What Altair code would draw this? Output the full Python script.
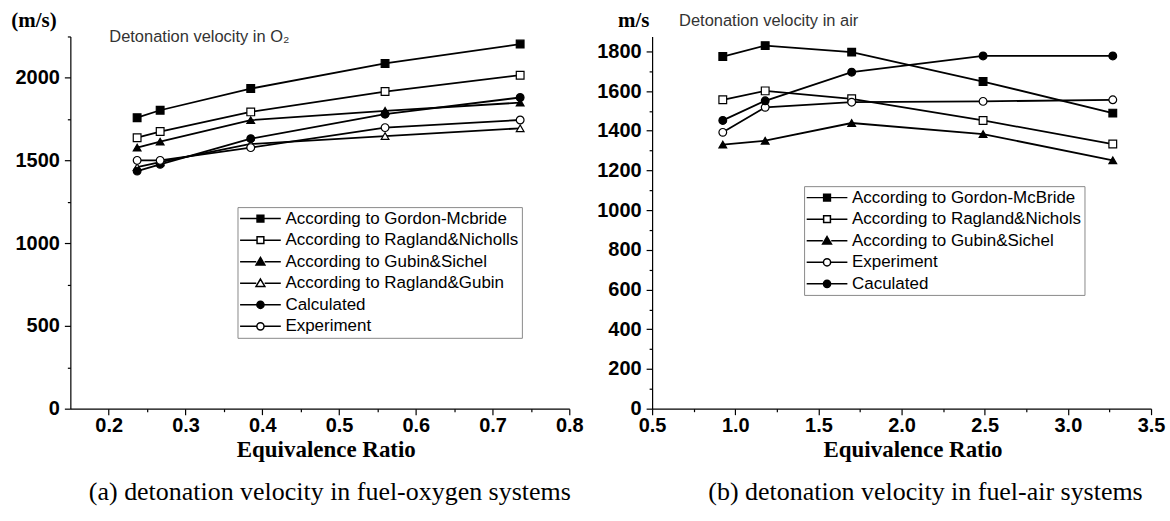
import altair as alt
import pandas as pd

# ---------------- data: panel (a) fuel-oxygen ----------------
phi_o2 = [0.237, 0.267, 0.385, 0.560, 0.736]
o2_names = [
    "According to Gordon-Mcbride",
    "According to Ragland&Nicholls",
    "According to Gubin&Sichel",
    "According to Ragland&Gubin",
    "Calculated",
    "Experiment",
]
o2_gordon = [1759, 1804, 1935, 2087, 2204]
o2_ragland_nicholls = [1638, 1675, 1794, 1917, 2016]
o2_gubin_sichel = [1578, 1614, 1744, 1800, 1850]
o2_ragland_gubin = [1460, 1490, 1600, 1648, 1695]
o2_calculated = [1436, 1477, 1632, 1780, 1881]
o2_experiment = [1501, 1501, 1578, 1699, 1745]
o2_values = [o2_gordon, o2_ragland_nicholls, o2_gubin_sichel,
             o2_ragland_gubin, o2_calculated, o2_experiment]
o2_marker = ["square", "square", "triangle", "triangle", "circle", "circle"]
o2_filled = [True, False, True, False, True, False]

# ---------------- data: panel (b) fuel-air ----------------
phi_air = [0.925, 1.18, 1.70, 2.49, 3.27]
air_names = [
    "According to Gordon-McBride",
    "According to Ragland&Nichols",
    "According to Gubin&Sichel",
    "Experiment",
    "Caculated",
]
air_gordon = [1774, 1829, 1796, 1648, 1489]
air_ragland_nichols = [1556, 1601, 1561, 1452, 1333]
air_gubin_sichel = [1330, 1350, 1439, 1383, 1251]
air_experiment = [1392, 1518, 1544, 1548, 1556]
air_calculated = [1452, 1551, 1695, 1777, 1777]
air_values = [air_gordon, air_ragland_nichols, air_gubin_sichel,
              air_experiment, air_calculated]
air_marker = ["square", "square", "triangle", "circle", "circle"]
air_filled = [True, False, True, False, True]

# ---------------- styling helpers ----------------
PLOT_SHAPES = {"square": "square", "triangle": "triangle-up", "circle": "circle"}
# legend symbols: a line with the marker in the middle (unit = 4 px at size 64)
LEG_SHAPES = {
    "square": "M-5.1,0H-0.85M0.85,0H5.1M-0.85,-0.85H0.85V0.85H-0.85Z",
    "triangle": "M-5.1,0H-1.05M1.05,0H5.1M0,-1.05L1.1,0.8H-1.1Z",
    "circle": "M-5.1,0H-0.9M0.9,0H5.1M-0.9,0A0.9,0.9 0 1,0 0.9,0A0.9,0.9 0 1,0 -0.9,0Z",
}
SANS = "Liberation Sans"
SERIF = "Liberation Serif"


def panel(xs, names, values, markers, filled, field, x_dom, x_ticks, x_minor,
          x_fmt, y_dom, y_ticks, y_minor, y_title, y_title_x, note, note_x,
          note_y, leg_x, leg_y, x_title_x, caption, caption_dx):
    rows = []
    for name, vals in zip(names, values):
        for x, v in zip(xs, vals):
            rows.append({"phi": x, "v": v, field: name})
    df = pd.DataFrame(rows)

    xs_scale = alt.Scale(domain=x_dom, nice=False, zero=False)
    ys_scale = alt.Scale(domain=y_dom, nice=False)

    x_main = alt.X("phi:Q", scale=xs_scale,
                   axis=alt.Axis(values=x_ticks, format=x_fmt, title="Equivalence Ratio",
                                 grid=False, tickSize=6, labelPadding=1, orient="bottom",
                                 labelFont=SANS, labelFontSize=20, labelFontWeight="bold",
                                 labelColor="black", titleFont=SERIF, titleFontSize=23,
                                 titleFontWeight="bold", titleColor="black", titlePadding=3,
                                 titleX=x_title_x, titleAlign="center",
                                 domainColor="black", tickColor="black", domainWidth=1.2,
                                 tickWidth=1.2, labelFlush=False))
    y_main = alt.Y("v:Q", scale=ys_scale,
                   axis=alt.Axis(values=y_ticks, format="d", title=y_title, grid=False,
                                 tickSize=6, orient="left",
                                 labelPadding=5, labelFont=SANS, labelFontSize=20,
                                 labelFontWeight="bold", labelColor="black",
                                 titleFont=SERIF, titleFontSize=21, titleFontWeight="bold",
                                 titleColor="black", titleAngle=0, titleAlign="center",
                                 titleBaseline="alphabetic", titleX=y_title_x, titleY=-10,
                                 domainColor="black", tickColor="black", domainWidth=1.2,
                                 tickWidth=1.2, labelFlush=False))

    base = alt.Chart(df)
    lines = base.mark_line(color="black", strokeWidth=1.8).encode(
        x=x_main, y=y_main, detail=f"{field}:N")

    shape_plot = alt.Scale(domain=names, range=[PLOT_SHAPES[m] for m in markers])
    fill_scale = alt.Scale(domain=names, range=["black" if f else "white" for f in filled])
    points = base.mark_point(filled=True, stroke="black", strokeWidth=1.2,
                             opacity=1, size=60).encode(
        x=alt.X("phi:Q", scale=xs_scale, axis=None),
        y=alt.Y("v:Q", scale=ys_scale, axis=None),
        shape=alt.Shape(f"{field}:N", scale=shape_plot, legend=None),
        fill=alt.Fill(f"{field}:N", scale=fill_scale, legend=None),
    )

    leg = alt.Legend(orient="none", legendX=leg_x, legendY=leg_y, title=None,
                     strokeColor="#8a8a8a", fillColor="white", padding=3,
                     labelFont=SANS, labelFontSize=17, labelColor="black",
                     labelLimit=500, symbolSize=64, symbolStrokeColor="black",
                     symbolStrokeWidth=1.5, symbolOpacity=1,
                     labelOffset=16.5, rowPadding=3.6, symbolOffset=11.5)
    shape_leg = alt.Scale(domain=names, range=[LEG_SHAPES[m] for m in markers])
    legend_layer = base.transform_calculate(lg=f"datum['{field}']").transform_filter(
        "false").mark_point(filled=False, stroke="black", strokeWidth=1.5,
                            opacity=1).encode(
        x=alt.X("phi:Q", scale=xs_scale, axis=None),
        y=alt.Y("v:Q", scale=ys_scale, axis=None),
        shape=alt.Shape("lg:N", scale=shape_leg, legend=leg),
        fill=alt.Fill("lg:N", scale=alt.Scale(domain=names,
                      range=["black" if f else "white" for f in filled]), legend=leg),
        stroke=alt.Stroke("lg:N", scale=alt.Scale(domain=names,
                          range=["black"] * len(names)), legend=leg),
    )

    # minor tick axes
    minor_x = base.mark_point(opacity=0).encode(
        x=alt.X("phi:Q", scale=xs_scale,
                axis=alt.Axis(values=x_minor, labels=False, domain=False, title=None,
                              grid=False, tickSize=3, tickColor="black", tickWidth=1.2,
                              orient="bottom")),
        y=alt.Y("v:Q", scale=ys_scale,
                axis=alt.Axis(values=y_minor, labels=False, domain=False, title=None,
                              grid=False, tickSize=3, tickColor="black", tickWidth=1.2,
                              orient="left")))

    note_layer = alt.Chart(pd.DataFrame({"t": [note]})).mark_text(
        align="left", baseline="alphabetic", font=SANS, fontSize=16.5, color="#333"
    ).encode(text="t:N", x=alt.value(note_x), y=alt.value(note_y))

    return alt.layer(lines, minor_x, points, legend_layer, note_layer).resolve_scale(
        shape="independent", fill="independent", stroke="independent"
    ).resolve_axis(x="independent", y="independent").properties(
        width=500, height=373,
        title=alt.TitleParams(caption, orient="bottom", font=SERIF, fontSize=26,
                              fontWeight="normal", color="black", offset=18,
                              anchor="middle", frame="group", dx=caption_dx),
    )


left = panel(phi_o2, o2_names, o2_values, o2_marker, o2_filled, "s_o2",
             [0.15, 0.8], [0.2, 0.3, 0.4, 0.5, 0.6, 0.7, 0.8],
             [0.25, 0.35, 0.45, 0.55, 0.65, 0.75], ".1f",
             [0, 2250], [0, 500, 1000, 1500, 2000], [250, 750, 1250, 1750, 2250],
             "(m/s)", -37, "Detonation velocity in O\u2082", 39, 6, 167.5, 171,
             256, "(a) detonation velocity in fuel-oxygen systems", 10)

right = panel(phi_air, air_names, air_values, air_marker, air_filled, "s_air",
              [0.5, 3.5], [0.5, 1.0, 1.5, 2.0, 2.5, 3.0, 3.5],
              [0.75, 1.25, 1.75, 2.25, 2.75, 3.25], ".1f",
              [0, 1875], [0, 200, 400, 600, 800, 1000, 1200, 1400, 1600, 1800],
              [100, 300, 500, 700, 900, 1100, 1300, 1500, 1700],
              "m/s", -19, "Detonation velocity in air", 27, -10, 152.3, 150,
              261, "(b) detonation velocity in fuel-air systems", 24)

chart = alt.hconcat(left, right, spacing=13).resolve_scale(
    shape="independent", fill="independent", stroke="independent"
).properties(
    padding={"left": 10.5, "top": 9, "right": 5, "bottom": 5},
    background="white",
).configure_view(stroke=None)

chart.save("out.html", embed_options={"renderer": "svg", "actions": False})
